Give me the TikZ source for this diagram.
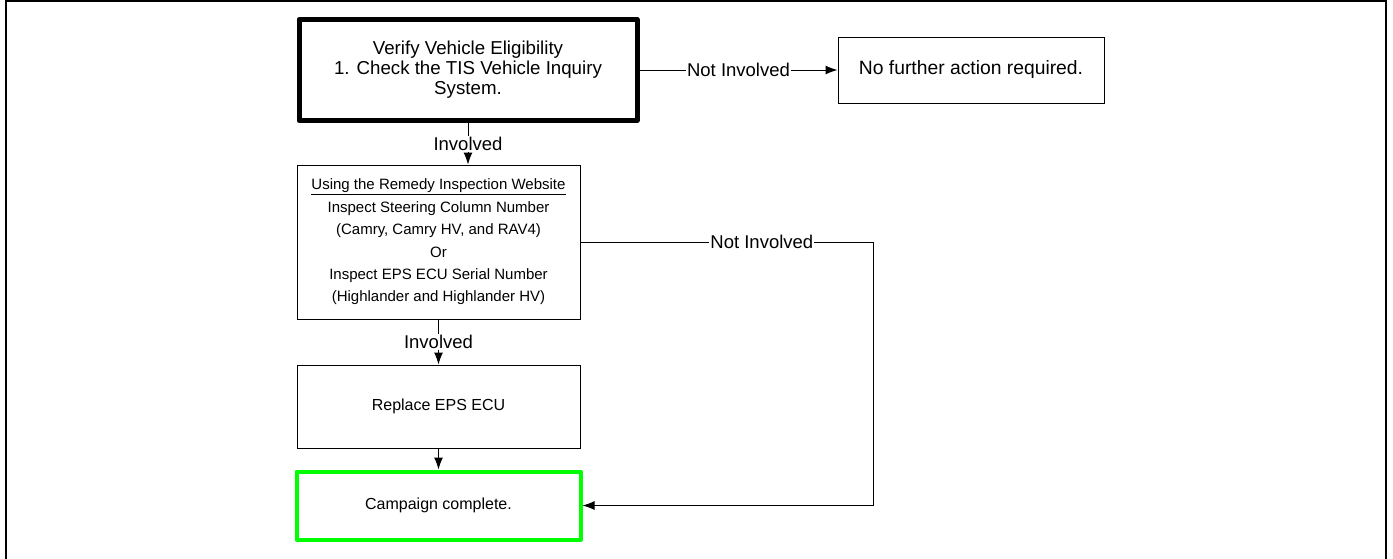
\documentclass[tikz,border=0pt]{standalone}
\usepackage{fontspec}
\setmainfont{Liberation Sans}
\usetikzlibrary{positioning,arrows.meta}
\definecolor{donegreen}{RGB}{0,255,0}

\begin{document}
\begin{tikzpicture}[
        x=1pt, y=-1pt,
        stepbox/.style={rectangle, draw=black, line width=1pt, align=center,
            inner sep=2pt, font=\fontsize{16}{22.4}\selectfont},
        startbox/.style={stepbox, line width=5pt, line join=round, font=\fontsize{18.7}{20}\selectfont},
        endbox/.style={stepbox, draw=donegreen, line width=4pt, line join=round},
        answer/.style={fill=white, inner sep=1pt, font=\fontsize{18.5}{20}\selectfont},
        flow/.style={line width=1pt, -{Latex[length=12pt,width=9pt]}},
        node distance=40pt
        ]
        \useasboundingbox (0,0) rectangle (1393,558);
        % frame
        \draw[line width=2pt] (5.5,560) -- (5.5,1) -- (1386,1) -- (1386,560);

        \node[startbox, minimum width=338, minimum height=101] (verify) at (468,70)
            {Verify Vehicle Eligibility\\1. Check the TIS Vehicle Inquiry\\System.};
        \node[stepbox, minimum width=266, minimum height=66, font=\fontsize{19.3}{22}\selectfont] (noaction) [right=198pt of verify]
            {No further action required.};
        \node[stepbox, minimum width=283, minimum height=154, font=\fontsize{15}{22.4}\selectfont]
            (inspect) [below=41.5pt of verify.south west, anchor=north west]
            {\underline{Using the Remedy Inspection Website}\\Inspect Steering Column Number\\(Camry, Camry HV, and RAV4)\\Or\\Inspect EPS ECU Serial Number\\(Highlander and Highlander HV)};
        \node[stepbox, minimum width=283, minimum height=83] (replace) [below=45pt of inspect]
            {Replace EPS ECU};
        \node[endbox, minimum width=284, minimum height=68] (complete) [below=21pt of replace]
            {Campaign complete.};
        \coordinate (turn) at (873,0);

        \draw[flow] (verify) -- node[answer] {Not Involved} (noaction);
        \draw[flow] (verify.south) -- node[answer] {Involved} (verify.south |- inspect.north);
        \draw[flow] (inspect) -- node[answer] {Involved} (replace);
        \draw[flow] (replace) -- (complete);
        \draw[line width=1pt] (inspect.east) -- node[answer, pos=0.62] {Not Involved} (inspect.east -| turn);
        \draw[flow] (inspect.east -| turn) -- (complete.east -| turn) -- (complete.east);
    \end{tikzpicture}
\end{document}
